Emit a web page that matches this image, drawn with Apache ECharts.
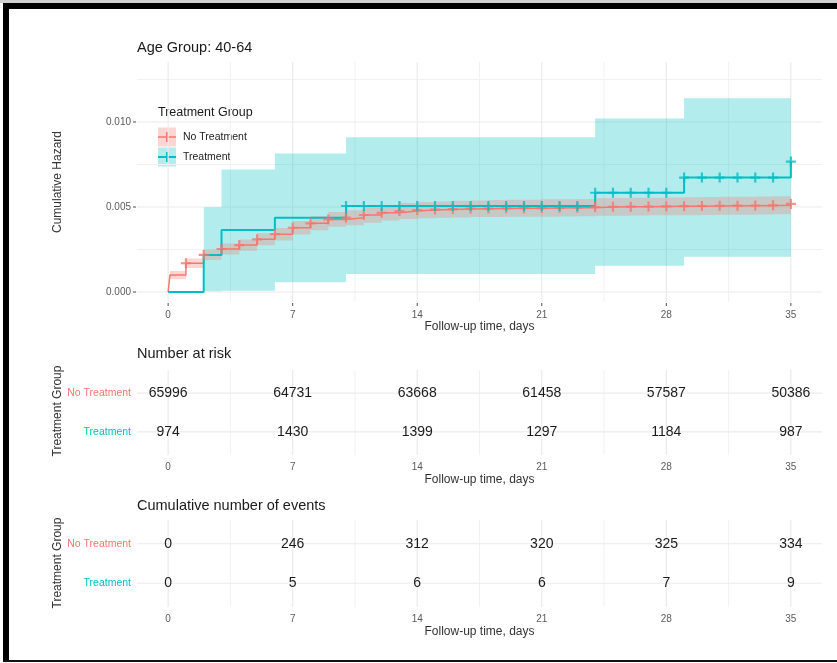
<!DOCTYPE html>
<html><head><meta charset="utf-8">
<script src="https://cdn.jsdelivr.net/npm/echarts@6/dist/echarts.min.js"></script>
<style>html,body{margin:0;padding:0;background:#fff}#c{width:837px;height:663px}</style>
</head><body><div id="c"></div>
<script>
// ---------- data ----------
const tickDays = [0, 7, 14, 21, 28, 35];
const minorDays = [3.5, 10.5, 17.5, 24.5, 31.5];
const hazardTicks = [0, 0.005, 0.010];
const hazardMinor = [0.0025, 0.0075, 0.0125];
const groups = ['No Treatment', 'Treatment'];

// No Treatment cumulative hazard (step values from each time on)
const noTrtTime = [0, 0.1, 1, 2, 3, 4, 5, 6, 7, 8, 9, 10, 11, 12, 13, 14, 15, 16, 17, 18, 19, 20, 21, 22, 23, 24, 25, 26, 27, 28, 29, 30, 31, 32, 33, 34, 35];
const noTrtHaz = [0, 0.00100, 0.00169, 0.00218, 0.00253, 0.00276, 0.00310, 0.00340, 0.00378, 0.00404, 0.00427, 0.00437, 0.00453, 0.00466, 0.00476, 0.00482, 0.00485, 0.00488, 0.00490, 0.00491, 0.00492, 0.00493, 0.00494, 0.00495, 0.00496, 0.00500, 0.00501, 0.00502, 0.00503, 0.00504, 0.00505, 0.00506, 0.00507, 0.00508, 0.00509, 0.00510, 0.00518];
const noTrtLower = [0, 0.00076, 0.00141, 0.00188, 0.00221, 0.00243, 0.00275, 0.00303, 0.00339, 0.00363, 0.00384, 0.00393, 0.00408, 0.00420, 0.00429, 0.00434, 0.00437, 0.00439, 0.00441, 0.00441, 0.00442, 0.00443, 0.00443, 0.00444, 0.00445, 0.00448, 0.00449, 0.00450, 0.00451, 0.00452, 0.00452, 0.00453, 0.00454, 0.00455, 0.00456, 0.00457, 0.00464];
const noTrtUpper = [0, 0.00124, 0.00197, 0.00248, 0.00285, 0.00309, 0.00345, 0.00377, 0.00417, 0.00445, 0.00470, 0.00481, 0.00498, 0.00512, 0.00523, 0.00530, 0.00533, 0.00537, 0.00539, 0.00541, 0.00542, 0.00543, 0.00545, 0.00546, 0.00547, 0.00552, 0.00553, 0.00554, 0.00555, 0.00556, 0.00558, 0.00559, 0.00560, 0.00561, 0.00562, 0.00563, 0.00572];
const noTrtCensorTime = [1, 2, 3, 4, 5, 6, 7, 8, 9, 10, 11, 12, 13, 14, 15, 16, 17, 18, 19, 20, 21, 22, 23, 24, 25, 26, 27, 28, 29, 30, 31, 32, 33, 34, 35];
const noTrtCensorHaz = [0.00169, 0.00218, 0.00253, 0.00276, 0.00310, 0.00340, 0.00378, 0.00404, 0.00427, 0.00437, 0.00453, 0.00466, 0.00476, 0.00482, 0.00485, 0.00488, 0.00490, 0.00491, 0.00492, 0.00493, 0.00494, 0.00495, 0.00496, 0.00500, 0.00501, 0.00502, 0.00503, 0.00504, 0.00505, 0.00506, 0.00507, 0.00508, 0.00509, 0.00510, 0.00518];

// Treatment cumulative hazard
const trtTime = [0, 2, 3, 6, 10, 24, 29, 35];
const trtHaz = [0, 0.00218, 0.00365, 0.00437, 0.00506, 0.00584, 0.00673, 0.00767];
const trtLower = [0, 0.00005, 0.00008, 0.00057, 0.00106, 0.00155, 0.00208, 0.00208];
const trtUpper = [0, 0.00498, 0.00720, 0.00815, 0.00910, 0.01020, 0.01140, 0.01140];
const trtCensorTime = [10, 11, 12, 13, 14, 15, 16, 17, 18, 19, 20, 21, 22, 23, 24, 25, 26, 27, 28, 29, 30, 31, 32, 33, 34, 35];
const trtCensorHaz = [0.00506, 0.00506, 0.00506, 0.00506, 0.00506, 0.00506, 0.00506, 0.00506, 0.00506, 0.00506, 0.00506, 0.00506, 0.00506, 0.00506, 0.00584, 0.00584, 0.00584, 0.00584, 0.00584, 0.00673, 0.00673, 0.00673, 0.00673, 0.00673, 0.00673, 0.00767];

// tables
const riskNoTrt = [65996, 64731, 63668, 61458, 57587, 50386];
const riskTrt = [974, 1430, 1399, 1297, 1184, 987];
const eventsNoTrt = [0, 246, 312, 320, 325, 334];
const eventsTrt = [0, 5, 6, 6, 7, 9];

// ---------- styling ----------
const RED = '#F8766D', TEAL = '#00BFC4';
const FONT = '"Liberation Sans", Arial, sans-serif';
const PLUS = 'path://M3.9,0h2.2v3.9h3.9v2.2h-3.9v3.9h-2.2v-3.9h-3.9v-2.2h3.9z';
const chart = echarts.init(document.getElementById('c'), null, {renderer: 'canvas'});

// panel grid lines drawn beneath everything
function gridLines(idx, xs, xsMinor, ys, ysMinor) {
  return {type: 'custom', xAxisIndex: idx, yAxisIndex: idx, z: 0, silent: true, data: [[0, 0]], clip: false,
    renderItem: function (params, api) {
      const cs = params.coordSys;
      const ch = [];
      const vline = (v, c, w) => { const p = api.coord([v, 1]);
        ch.push({type: 'line', shape: {x1: p[0], y1: cs.y, x2: p[0], y2: cs.y + cs.height}, style: {stroke: c, lineWidth: w}}); };
      const hline = (v, c, w) => { const p = api.coord([0, v]);
        ch.push({type: 'line', shape: {x1: cs.x, y1: p[1], x2: cs.x + cs.width, y2: p[1]}, style: {stroke: c, lineWidth: w}}); };
      xsMinor.forEach(v => vline(v, '#F1F1F1', 1));
      ysMinor.forEach(v => hline(v, '#F1F1F1', 1));
      xs.forEach(v => vline(v, '#EBEBEB', 1.2));
      ys.forEach(v => hline(v, '#EBEBEB', 1.2));
      return {type: 'group', children: ch};
    }};
}

function band(times, lo, hi, color) {
  return {type: 'custom', xAxisIndex: 0, yAxisIndex: 0, z: 2, silent: true, data: [[0, 0]],
    renderItem: function (params, api) {
      const pts = [];
      for (let i = 0; i < times.length - 1; i++) {
        pts.push(api.coord([times[i], hi[i]]));
        pts.push(api.coord([times[i + 1], hi[i]]));
      }
      for (let i = times.length - 2; i >= 0; i--) {
        pts.push(api.coord([times[i + 1], lo[i]]));
        pts.push(api.coord([times[i], lo[i]]));
      }
      return {type: 'polygon', shape: {points: pts}, style: {fill: color, stroke: null}};
    }};
}

// small axis ticks for the main panel
const mainTicks = {type: 'custom', xAxisIndex: 0, yAxisIndex: 0, z: 5, silent: true, data: [[0, 0]], clip: false,
  renderItem: function (params, api) {
    const cs = params.coordSys;
    const ch = [];
    hazardTicks.forEach(v => {
      const p = api.coord([0, v]);
      ch.push({type: 'line', shape: {x1: cs.x - 4, y1: p[1], x2: cs.x - 1, y2: p[1]}, style: {stroke: '#4D4D4D', lineWidth: 1}});
    });
    tickDays.forEach(d => {
      const p = api.coord([d, 0]);
      const yb = cs.y + cs.height;
      ch.push({type: 'line', shape: {x1: p[0], y1: yb + 1, x2: p[0], y2: yb + 4}, style: {stroke: '#4D4D4D', lineWidth: 1}});
    });
    return {type: 'group', children: ch};
  }};

function tableText(idx, vals, row) {
  return {type: 'custom', xAxisIndex: idx, yAxisIndex: idx, z: 5, silent: true,
    data: tickDays.map((d, i) => [d, row, vals[i]]),
    renderItem: function (params, api) {
      const p = api.coord([api.value(0), api.value(1)]);
      return {type: 'text', x: p[0], y: p[1],
        style: {text: String(api.value(2)), align: 'center', verticalAlign: 'middle',
          font: '14px ' + FONT, fill: '#1A1A1A'}};
    }};
}

const xBase = {type: 'value', min: -1.75, max: 36.75, axisLine: {show: false}, splitLine: {show: false}, axisTick: {show: false}};
function xAxisCfg(idx, margin) {
  return Object.assign({}, xBase, {gridIndex: idx,
    axisLabel: {customValues: tickDays, margin: margin, color: '#5A5A5A', fontSize: 10, fontFamily: FONT}});
}
function tableY(idx) {
  return {type: 'value', gridIndex: idx, min: 0.4, max: 2.6, axisLine: {show: false}, splitLine: {show: false},
    axisTick: {show: false},
    axisLabel: {customValues: [1, 2], margin: 6, fontFamily: FONT,
      formatter: v => v === 2 ? '{a|' + groups[0] + '}' : (v === 1 ? '{b|' + groups[1] + '}' : ''),
      rich: {a: {color: RED, fontSize: 10.5, fontFamily: FONT}, b: {color: TEAL, fontSize: 10.5, fontFamily: FONT}}}};
}

const txt = (x, y, text, size, color, align) => ({type: 'text', x: x, y: y,
  style: {text: text, font: size + 'px ' + FONT, fill: color, align: align || 'left', verticalAlign: 'middle'}});
const vtxt = (x, y, text) => ({type: 'text', x: x, y: y, rotation: Math.PI / 2,
  style: {text: text, font: '12px ' + FONT, fill: '#333', align: 'center', verticalAlign: 'middle'}});

const option = {
  animation: false,
  backgroundColor: '#fff',
  grid: [
    {left: 137, right: 15, top: 62, height: 240},
    {left: 137, right: 15, top: 370, height: 85},
    {left: 137, right: 15, top: 520, height: 87}
  ],
  xAxis: [xAxisCfg(0, 8), xAxisCfg(1, 7), xAxisCfg(2, 7)],
  yAxis: [
    {type: 'value', gridIndex: 0, min: -0.000588, max: 0.01353, axisLine: {show: false}, splitLine: {show: false},
      axisTick: {show: false},
      axisLabel: {customValues: hazardTicks, margin: 6, color: '#5A5A5A', fontSize: 10, fontFamily: FONT,
        formatter: v => v.toFixed(3)}},
    tableY(1), tableY(2)
  ],
  series: [
    gridLines(0, tickDays, minorDays, hazardTicks, hazardMinor),
    gridLines(1, tickDays, minorDays, [1, 2], []),
    gridLines(2, tickDays, minorDays, [1, 2], []),
    band(trtTime, trtLower, trtUpper, 'rgba(0,191,196,0.3)'),
    band(noTrtTime, noTrtLower, noTrtUpper, 'rgba(248,118,109,0.3)'),
    {type: 'line', name: groups[0], xAxisIndex: 0, yAxisIndex: 0, step: 'end', showSymbol: false, z: 3, silent: true,
      data: noTrtTime.map((t, i) => [t, noTrtHaz[i]]), lineStyle: {color: RED, width: 1.5}},
    {type: 'line', name: groups[1], xAxisIndex: 0, yAxisIndex: 0, step: 'end', showSymbol: false, z: 3, silent: true,
      data: trtTime.map((t, i) => [t, trtHaz[i]]), lineStyle: {color: TEAL, width: 2}},
    {type: 'scatter', xAxisIndex: 0, yAxisIndex: 0, symbol: PLUS, symbolSize: 10, z: 4, silent: true,
      itemStyle: {color: RED}, data: noTrtCensorTime.map((t, i) => [t, noTrtCensorHaz[i]])},
    {type: 'scatter', xAxisIndex: 0, yAxisIndex: 0, symbol: PLUS, symbolSize: 10, z: 4, silent: true,
      itemStyle: {color: TEAL}, data: trtCensorTime.map((t, i) => [t, trtCensorHaz[i]])},
    mainTicks,
    tableText(1, riskNoTrt, 2), tableText(1, riskTrt, 1),
    tableText(2, eventsNoTrt, 2), tableText(2, eventsTrt, 1)
  ],
  graphic: [
    // frame
    {type: 'rect', shape: {x: 0, y: 0, width: 837, height: 3}, style: {fill: '#D0D0D0'}},
    {type: 'rect', shape: {x: 3, y: 3, width: 834, height: 6}, style: {fill: '#000'}},
    {type: 'rect', shape: {x: 3, y: 3, width: 6, height: 659}, style: {fill: '#000'}},
    {type: 'rect', shape: {x: 3, y: 660, width: 834, height: 2}, style: {fill: '#111'}},
    // titles
    txt(137, 48, 'Age Group: 40-64', 14.5, '#1A1A1A'),
    txt(137, 354, 'Number at risk', 14.5, '#1A1A1A'),
    txt(137, 506, 'Cumulative number of events', 14.5, '#1A1A1A'),
    // axis titles
    txt(479.5, 327, 'Follow-up time, days', 12, '#333', 'center'),
    txt(479.5, 480, 'Follow-up time, days', 12, '#333', 'center'),
    txt(479.5, 632, 'Follow-up time, days', 12, '#333', 'center'),
    vtxt(58, 182, 'Cumulative Hazard'),
    vtxt(58, 411, 'Treatment Group'),
    vtxt(58, 563, 'Treatment Group'),
    // legend
    txt(158, 113, 'Treatment Group', 12.5, '#1A1A1A'),
    {type: 'rect', shape: {x: 158, y: 127.5, width: 18, height: 19}, style: {fill: 'rgba(248,118,109,0.3)'}},
    {type: 'line', shape: {x1: 158, y1: 137, x2: 176, y2: 137}, style: {stroke: RED, lineWidth: 1.5}},
    {type: 'line', shape: {x1: 167, y1: 132, x2: 167, y2: 142}, style: {stroke: RED, lineWidth: 2}},
    {type: 'rect', shape: {x: 158, y: 147.5, width: 18, height: 19}, style: {fill: 'rgba(0,191,196,0.3)'}},
    {type: 'line', shape: {x1: 158, y1: 157, x2: 176, y2: 157}, style: {stroke: TEAL, lineWidth: 2}},
    {type: 'line', shape: {x1: 167, y1: 152, x2: 167, y2: 162}, style: {stroke: TEAL, lineWidth: 2}},
    txt(183, 137, groups[0], 10.5, '#1A1A1A'),
    txt(183, 157, groups[1], 10.5, '#1A1A1A')
  ]
};
chart.setOption(option);
</script></body></html>
